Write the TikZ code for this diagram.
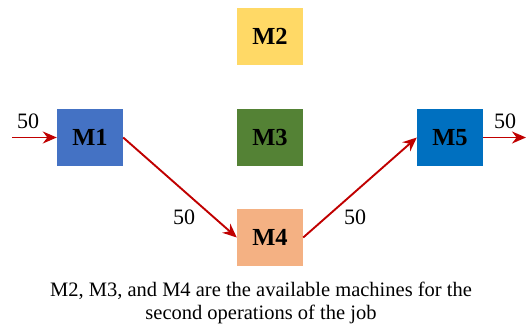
\documentclass[tikz,border=0pt]{standalone}
\usepackage{fontspec}
\setmainfont{Liberation Serif}
\usetikzlibrary{arrows.meta,positioning}
\definecolor{mblue}{HTML}{4472C4}
\definecolor{myellow}{HTML}{FFD966}
\definecolor{mgreen}{HTML}{548235}
\definecolor{morange}{HTML}{F4B183}
\definecolor{mdblue}{HTML}{0070C0}
\definecolor{flowred}{HTML}{C00000}

\begin{document}
\begin{tikzpicture}[x=1pt,y=-1pt,
  machine/.style={minimum width=66pt,minimum height=57pt,inner sep=0pt,
    font=\fontsize{24.5}{26}\selectfont\bfseries},
  flow/.style={-{Stealth[length=14pt,width=12pt]},flowred,line width=1.9pt},
  qty/.style={font=\fontsize{22}{24}\selectfont}]
\useasboundingbox (0,0) rectangle (526,327);

% Machines
\node[machine,fill=mblue] (m1) at (90,137.5) {M1};
\node[machine,fill=myellow] (m2) at (270,36.5) {M2};
\node[machine,fill=mgreen] (m3) at (270,137.5) {M3};
\node[machine,fill=morange] (m4) at (270,237.5) {M4};
\node[machine,fill=mdblue] (m5) at (450,137.5) {M5};

% Incoming and outgoing job
\coordinate (in) at (12,137.5);
\coordinate (out) at (526,137.5);
\draw[flow] (in) -- (m1.west);
\draw[flow] (m5.east) -- (out);
\node[qty] (qin) at (28,121) {50};
\node[qty] (qout) at (505,121) {50};

% Route through M4
\draw[flow] (m1.east) -- (m4.west);
\draw[flow] (m4.east) -- (m5.west);
\node[qty] (q14) at (184,217) {50};
\node[qty] (q45) at (355,217) {50};

\node[font=\fontsize{20.5}{23}\selectfont,align=center] (note) at (261,303)
  {M2, M3, and M4 are the available machines for the\\second operations of the job};
\end{tikzpicture}
\end{document}
